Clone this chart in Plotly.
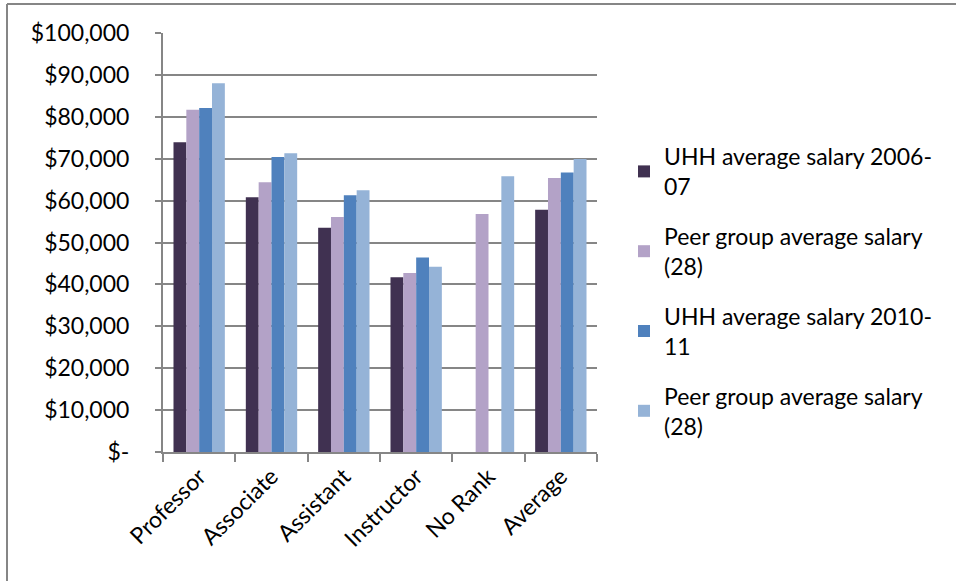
import plotly.graph_objects as go

categories = ["Professor", "Associate", "Assistant", "Instructor", "No Rank", "Average"]

series_names = [
    "UHH average salary 2006-<br>07",
    "Peer group average salary<br>(28)",
    "UHH average salary 2010-<br>11",
    "Peer group average salary<br>(28)",
]
uhh_2006 = [73900, 60800, 53500, 41700, None, 57800]
peer_2006 = [81700, 64400, 56100, 42700, 56800, 65400]
uhh_2010 = [82100, 70400, 61300, 46400, None, 66700]
peer_2010 = [88000, 71300, 62500, 44200, 65800, 69900]

series_values = [uhh_2006, peer_2006, uhh_2010, peer_2010]
colors = ["#403151", "#B3A2C7", "#4F81BD", "#95B3D7"]

tick_vals = list(range(0, 100001, 10000))
tick_text = ["$-"] + [f"${v:,}" for v in tick_vals[1:]]

FONT = "Lato"
FS = 23
W, H = 956, 581
L, R, T, B = 163, 359, 33, 129
PW, PH = W - L - R, H - T - B

fig = go.Figure()
for i, (name, vals, col) in enumerate(zip(series_names, series_values, colors)):
    fig.add_trace(go.Bar(
        x=categories, y=vals, name=name, legendgroup=f"g{i}",
        marker=dict(color=col, line=dict(width=0)),
    ))

grey = "#868686"
fig.update_layout(
    width=W, height=H,
    margin=dict(l=L, r=R, t=T, b=B, pad=0),
    paper_bgcolor="white", plot_bgcolor="white",
    barmode="group", bargap=0.29, bargroupgap=0,
    font=dict(family=FONT, size=FS, color="#000000"),
    showlegend=True,
    legend=dict(
        x=(624 - L) / PW, xanchor="left",
        y=(H - B - 135) / PH, yanchor="top",
        font=dict(family=FONT, size=FS, color="#000000"),
        tracegroupgap=17, itemsizing="constant",
        bgcolor="rgba(0,0,0,0)",
    ),
    xaxis=dict(
        type="category", tickangle=-45, tickson="boundaries",
        ticks="outside", ticklen=8, tickcolor=grey, tickwidth=2,
        showline=True, linecolor=grey, linewidth=2,
        showgrid=False, tickfont=dict(family=FONT, size=FS),
    ),
    yaxis=dict(
        range=[0, 100000], tickvals=tick_vals, ticktext=tick_text,
        ticks="outside", ticklen=6, tickcolor=grey, tickwidth=2,
        showline=True, linecolor=grey, linewidth=2,
        showgrid=True, gridcolor=grey, gridwidth=2,
        zeroline=False, tickfont=dict(family=FONT, size=FS),
        ticklabelstandoff=21,
    ),
    shapes=[
        # outer frame: top and left edges only
        dict(type="line", xref="paper", yref="paper",
             x0=(7 - L) / PW, x1=(956 - L) / PW,
             y0=(H - B - 4) / PH, y1=(H - B - 4) / PH,
             line=dict(color=grey, width=2)),
        dict(type="line", xref="paper", yref="paper",
             x0=(7 - L) / PW, x1=(7 - L) / PW,
             y0=(H - B - 4) / PH, y1=(H - B - 581) / PH,
             line=dict(color=grey, width=2)),
    ],
)

fig.write_html("out.html")
